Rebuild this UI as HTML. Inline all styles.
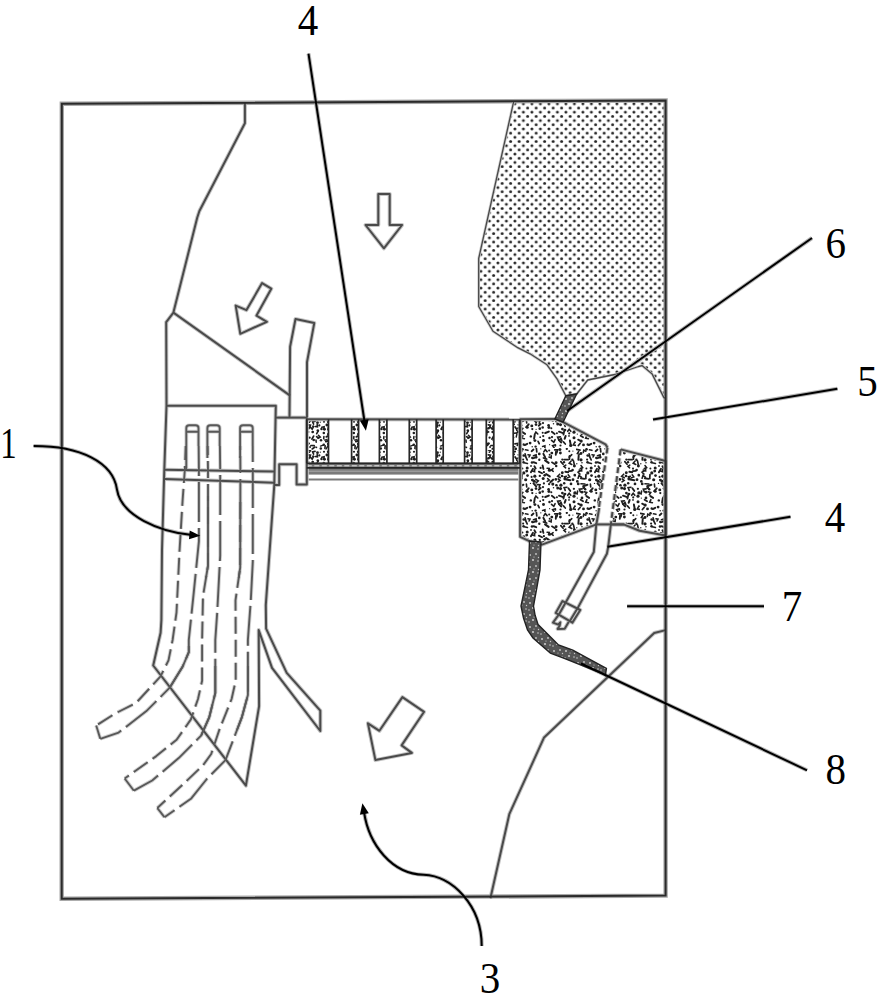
<!DOCTYPE html>
<html><head><meta charset="utf-8"><style>
html,body{margin:0;padding:0;background:#fff;}
body{width:884px;height:1000px;overflow:hidden;font-family:"Liberation Serif",serif;}
svg{position:absolute;left:0;top:0;display:block;}
</style></head><body>
<svg width="884" height="1000" viewBox="0 0 884 1000">
<defs>
<pattern id="dots" patternUnits="userSpaceOnUse" x="650.9" y="103.8" width="8.5" height="8.375">
<circle cx="0" cy="0" r="1.5" fill="#262626"/><circle cx="8.5" cy="0" r="1.5" fill="#262626"/>
<circle cx="0" cy="8.375" r="1.5" fill="#262626"/><circle cx="8.5" cy="8.375" r="1.5" fill="#262626"/>
<circle cx="4.25" cy="4.1875" r="1.5" fill="#262626"/>
</pattern>
<pattern id="spk" patternUnits="userSpaceOnUse" width="64" height="64">
<rect width="64" height="64" fill="#fff"/>
<g fill="#1e1e1e" stroke="#1e1e1e" stroke-linecap="round">
<line x1="0.4" y1="1.4" x2="4.1" y2="2.1" stroke-width="1.61"/>
<polyline points="2.7,3.5 1.4,5.6 3.8,6.3" fill="none" stroke-width="1.6"/>
<line x1="2.7" y1="7.5" x2="2.4" y2="11.7" stroke-width="1.97"/>
<circle cx="0.8" cy="15.7" r="0.69" stroke="none"/>
<polyline points="4.4,22.8 2.1,24.1 3.9,26.1" fill="none" stroke-width="1.6"/>
<polyline points="5.4,29.2 3.0,27.6 2.1,30.3" fill="none" stroke-width="1.6"/>
<circle cx="1.3" cy="33.4" r="1.41" stroke="none"/>
<circle cx="2.2" cy="35.9" r="1.38" stroke="none"/>
<polyline points="6.2,40.9 3.3,41.1 4.3,43.8" fill="none" stroke-width="1.6"/>
<polyline points="-1.5,44.7 1.1,45.9 1.6,43.0" fill="none" stroke-width="1.6"/>
<circle cx="1.3" cy="50.1" r="0.69" stroke="none"/>
<line x1="2.1" y1="55.6" x2="5.1" y2="57.1" stroke-width="1.75"/>
<line x1="4.1" y1="59.5" x2="2.4" y2="61.5" stroke-width="1.77"/>
<polyline points="9.9,3.2 7.8,2.1 7.3,4.4" fill="none" stroke-width="1.6"/>
<circle cx="5.0" cy="5.5" r="1.40" stroke="none"/>
<circle cx="5.0" cy="11.8" r="1.62" stroke="none"/>
<circle cx="6.0" cy="14.8" r="0.79" stroke="none"/>
<polyline points="4.3,20.6 6.6,19.6 5.0,17.6" fill="none" stroke-width="1.6"/>
<polyline points="3.2,22.1 5.6,22.9 5.7,20.4" fill="none" stroke-width="1.6"/>
<line x1="4.8" y1="30.2" x2="8.5" y2="30.9" stroke-width="1.91"/>
<line x1="5.0" y1="35.7" x2="8.9" y2="36.0" stroke-width="1.63"/>
<circle cx="7.8" cy="39.8" r="1.39" stroke="none"/>
<circle cx="6.0" cy="44.2" r="1.39" stroke="none"/>
<circle cx="6.0" cy="49.9" r="1.37" stroke="none"/>
<line x1="4.6" y1="51.7" x2="7.1" y2="53.3" stroke-width="1.82"/>
<circle cx="5.2" cy="57.1" r="1.54" stroke="none"/>
<circle cx="7.5" cy="60.9" r="1.42" stroke="none"/>
<circle cx="10.5" cy="1.3" r="1.34" stroke="none"/>
<circle cx="11.6" cy="7.4" r="1.18" stroke="none"/>
<circle cx="11.1" cy="11.6" r="1.08" stroke="none"/>
<circle cx="11.5" cy="14.2" r="1.27" stroke="none"/>
<circle cx="10.4" cy="20.5" r="1.00" stroke="none"/>
<circle cx="11.8" cy="24.9" r="1.62" stroke="none"/>
<line x1="10.0" y1="26.6" x2="9.7" y2="30.4" stroke-width="1.74"/>
<circle cx="9.9" cy="30.7" r="0.69" stroke="none"/>
<line x1="11.4" y1="36.8" x2="7.2" y2="38.2" stroke-width="2.05"/>
<circle cx="9.2" cy="41.3" r="1.19" stroke="none"/>
<polyline points="9.3,46.7 10.7,44.5 8.2,43.8" fill="none" stroke-width="1.6"/>
<line x1="10.4" y1="48.1" x2="13.1" y2="49.9" stroke-width="1.87"/>
<polyline points="10.9,51.7 9.7,54.2 12.4,54.7" fill="none" stroke-width="1.6"/>
<circle cx="11.7" cy="60.5" r="1.17" stroke="none"/>
<line x1="13.5" y1="1.8" x2="15.9" y2="2.3" stroke-width="1.66"/>
<polyline points="11.6,7.8 13.6,7.8 13.1,5.8" fill="none" stroke-width="1.6"/>
<line x1="13.6" y1="8.6" x2="15.2" y2="11.9" stroke-width="1.70"/>
<line x1="12.2" y1="14.7" x2="15.4" y2="15.5" stroke-width="1.69"/>
<circle cx="15.2" cy="20.0" r="1.52" stroke="none"/>
<circle cx="14.7" cy="23.1" r="1.46" stroke="none"/>
<circle cx="15.5" cy="27.6" r="1.35" stroke="none"/>
<circle cx="13.7" cy="31.8" r="1.57" stroke="none"/>
<line x1="14.4" y1="36.0" x2="14.7" y2="39.0" stroke-width="1.66"/>
<line x1="16.7" y1="40.3" x2="14.1" y2="43.1" stroke-width="1.88"/>
<circle cx="15.2" cy="43.3" r="1.50" stroke="none"/>
<line x1="15.2" y1="59.8" x2="12.8" y2="61.1" stroke-width="1.94"/>
<line x1="21.5" y1="1.5" x2="19.6" y2="3.2" stroke-width="1.86"/>
<polyline points="17.1,9.0 18.0,7.1 16.0,6.7" fill="none" stroke-width="1.6"/>
<circle cx="20.2" cy="9.9" r="1.16" stroke="none"/>
<circle cx="20.0" cy="14.6" r="1.26" stroke="none"/>
<circle cx="19.0" cy="18.0" r="0.89" stroke="none"/>
<line x1="21.0" y1="20.7" x2="18.9" y2="24.2" stroke-width="1.86"/>
<circle cx="19.6" cy="28.9" r="1.06" stroke="none"/>
<circle cx="20.4" cy="32.1" r="1.47" stroke="none"/>
<circle cx="18.5" cy="35.4" r="0.69" stroke="none"/>
<circle cx="19.8" cy="41.9" r="1.46" stroke="none"/>
<circle cx="20.3" cy="45.1" r="1.14" stroke="none"/>
<circle cx="18.8" cy="52.4" r="1.21" stroke="none"/>
<circle cx="18.1" cy="59.1" r="1.39" stroke="none"/>
<circle cx="20.2" cy="62.8" r="0.74" stroke="none"/>
<line x1="24.3" y1="-0.4" x2="24.8" y2="4.0" stroke-width="1.71"/>
<polyline points="24.3,9.8 24.1,6.9 21.4,7.8" fill="none" stroke-width="1.6"/>
<line x1="24.8" y1="9.1" x2="20.7" y2="10.4" stroke-width="1.73"/>
<line x1="21.6" y1="14.3" x2="24.2" y2="15.1" stroke-width="2.02"/>
<line x1="22.4" y1="18.3" x2="23.7" y2="20.5" stroke-width="1.82"/>
<polyline points="20.3,23.1 22.6,23.7 22.6,21.3" fill="none" stroke-width="1.6"/>
<circle cx="22.8" cy="28.2" r="1.58" stroke="none"/>
<circle cx="22.3" cy="33.3" r="1.50" stroke="none"/>
<line x1="21.5" y1="35.3" x2="24.2" y2="38.3" stroke-width="1.98"/>
<circle cx="24.0" cy="40.6" r="1.32" stroke="none"/>
<circle cx="24.1" cy="45.3" r="0.65" stroke="none"/>
<polyline points="25.8,50.0 23.9,48.1 22.6,50.4" fill="none" stroke-width="1.6"/>
<line x1="22.7" y1="51.0" x2="22.1" y2="54.7" stroke-width="1.92"/>
<circle cx="22.9" cy="56.6" r="1.47" stroke="none"/>
<circle cx="23.6" cy="62.6" r="1.17" stroke="none"/>
<circle cx="28.8" cy="0.8" r="0.67" stroke="none"/>
<circle cx="27.3" cy="5.9" r="1.35" stroke="none"/>
<circle cx="27.3" cy="11.7" r="1.18" stroke="none"/>
<circle cx="28.6" cy="19.9" r="1.12" stroke="none"/>
<line x1="26.8" y1="23.6" x2="30.1" y2="25.2" stroke-width="1.80"/>
<circle cx="27.8" cy="27.9" r="1.16" stroke="none"/>
<polyline points="24.1,34.9 26.3,32.9 23.8,31.3" fill="none" stroke-width="1.6"/>
<polyline points="27.2,39.2 28.0,36.7 25.3,36.6" fill="none" stroke-width="1.6"/>
<line x1="28.6" y1="40.0" x2="26.7" y2="41.7" stroke-width="1.93"/>
<circle cx="27.8" cy="44.7" r="1.34" stroke="none"/>
<circle cx="28.2" cy="53.2" r="0.89" stroke="none"/>
<line x1="26.1" y1="57.3" x2="27.2" y2="59.6" stroke-width="1.72"/>
<polyline points="35.1,3.6 33.3,1.6 31.8,3.9" fill="none" stroke-width="1.6"/>
<line x1="31.4" y1="5.9" x2="33.2" y2="9.4" stroke-width="2.00"/>
<line x1="31.4" y1="9.9" x2="34.7" y2="11.1" stroke-width="1.62"/>
<line x1="30.6" y1="17.5" x2="31.4" y2="20.9" stroke-width="1.92"/>
<circle cx="31.9" cy="24.2" r="1.12" stroke="none"/>
<circle cx="32.7" cy="27.3" r="1.34" stroke="none"/>
<circle cx="31.2" cy="30.5" r="1.51" stroke="none"/>
<circle cx="31.9" cy="35.4" r="1.11" stroke="none"/>
<circle cx="31.0" cy="39.1" r="1.11" stroke="none"/>
<circle cx="30.7" cy="43.4" r="1.27" stroke="none"/>
<circle cx="30.7" cy="48.8" r="1.02" stroke="none"/>
<circle cx="31.2" cy="52.1" r="1.11" stroke="none"/>
<circle cx="31.5" cy="56.5" r="1.47" stroke="none"/>
<polyline points="32.9,64.1 32.9,61.8 30.6,62.4" fill="none" stroke-width="1.6"/>
<circle cx="37.2" cy="2.5" r="1.06" stroke="none"/>
<circle cx="37.7" cy="6.7" r="1.02" stroke="none"/>
<line x1="33.1" y1="12.3" x2="36.6" y2="14.9" stroke-width="2.09"/>
<polyline points="36.5,22.4 37.2,20.4 35.1,20.3" fill="none" stroke-width="1.6"/>
<circle cx="37.6" cy="22.2" r="1.55" stroke="none"/>
<line x1="34.1" y1="26.1" x2="37.8" y2="28.4" stroke-width="1.97"/>
<polyline points="35.2,33.4 37.3,32.2 35.6,30.5" fill="none" stroke-width="1.6"/>
<circle cx="37.1" cy="36.2" r="1.11" stroke="none"/>
<circle cx="36.6" cy="41.2" r="1.32" stroke="none"/>
<circle cx="36.9" cy="43.4" r="1.49" stroke="none"/>
<line x1="36.8" y1="47.6" x2="33.3" y2="49.0" stroke-width="2.04"/>
<circle cx="37.5" cy="54.0" r="1.24" stroke="none"/>
<circle cx="37.6" cy="60.7" r="0.63" stroke="none"/>
<circle cx="39.8" cy="5.1" r="1.42" stroke="none"/>
<polyline points="37.0,9.0 39.1,9.9 39.3,7.7" fill="none" stroke-width="1.6"/>
<line x1="39.9" y1="14.3" x2="42.9" y2="16.2" stroke-width="1.69"/>
<polyline points="41.1,20.7 39.4,22.0 41.2,23.3" fill="none" stroke-width="1.6"/>
<line x1="41.1" y1="31.7" x2="38.3" y2="34.3" stroke-width="2.04"/>
<circle cx="40.8" cy="36.1" r="1.54" stroke="none"/>
<circle cx="41.5" cy="39.7" r="0.74" stroke="none"/>
<circle cx="39.3" cy="44.3" r="1.05" stroke="none"/>
<line x1="39.8" y1="47.7" x2="42.7" y2="50.0" stroke-width="1.78"/>
<circle cx="40.0" cy="53.1" r="1.14" stroke="none"/>
<polyline points="39.5,56.3 41.8,58.3 43.1,55.6" fill="none" stroke-width="1.6"/>
<polyline points="43.4,60.7 40.6,61.6 42.2,64.0" fill="none" stroke-width="1.6"/>
<polyline points="44.9,4.7 45.6,1.9 42.7,1.9" fill="none" stroke-width="1.6"/>
<line x1="44.0" y1="3.7" x2="43.8" y2="6.7" stroke-width="1.92"/>
<circle cx="44.1" cy="14.7" r="1.48" stroke="none"/>
<circle cx="44.2" cy="18.0" r="1.27" stroke="none"/>
<polyline points="47.7,26.2 45.6,28.3 48.2,29.8" fill="none" stroke-width="1.6"/>
<circle cx="43.8" cy="31.4" r="1.34" stroke="none"/>
<circle cx="44.4" cy="37.3" r="1.30" stroke="none"/>
<circle cx="45.7" cy="39.9" r="1.52" stroke="none"/>
<circle cx="44.9" cy="49.2" r="1.03" stroke="none"/>
<polyline points="48.4,52.9 45.6,53.2 46.7,55.8" fill="none" stroke-width="1.6"/>
<circle cx="43.3" cy="61.7" r="1.03" stroke="none"/>
<circle cx="47.9" cy="1.6" r="1.52" stroke="none"/>
<circle cx="48.4" cy="5.0" r="1.41" stroke="none"/>
<circle cx="50.3" cy="11.6" r="1.09" stroke="none"/>
<line x1="48.8" y1="13.6" x2="51.1" y2="16.3" stroke-width="1.68"/>
<circle cx="50.3" cy="24.7" r="1.43" stroke="none"/>
<circle cx="50.0" cy="28.0" r="1.34" stroke="none"/>
<polyline points="46.0,33.9 48.1,32.5 46.2,30.9" fill="none" stroke-width="1.6"/>
<circle cx="48.9" cy="37.2" r="1.62" stroke="none"/>
<circle cx="48.5" cy="40.6" r="1.55" stroke="none"/>
<circle cx="50.4" cy="45.1" r="1.37" stroke="none"/>
<line x1="47.0" y1="47.7" x2="51.1" y2="49.1" stroke-width="1.93"/>
<polyline points="50.0,57.0 49.1,54.5 47.0,56.0" fill="none" stroke-width="1.6"/>
<line x1="47.1" y1="56.1" x2="49.1" y2="58.4" stroke-width="2.07"/>
<circle cx="48.5" cy="61.5" r="1.09" stroke="none"/>
<circle cx="54.8" cy="0.9" r="1.13" stroke="none"/>
<line x1="52.0" y1="11.6" x2="56.1" y2="11.7" stroke-width="1.74"/>
<circle cx="52.0" cy="14.2" r="1.17" stroke="none"/>
<polyline points="53.8,17.2 52.0,18.4 53.6,19.8" fill="none" stroke-width="1.6"/>
<line x1="53.4" y1="23.8" x2="56.2" y2="24.2" stroke-width="1.98"/>
<polyline points="54.4,28.2 52.4,28.7 53.4,30.5" fill="none" stroke-width="1.6"/>
<circle cx="53.0" cy="30.8" r="1.64" stroke="none"/>
<circle cx="52.2" cy="35.2" r="1.23" stroke="none"/>
<polyline points="55.0,39.2 52.1,39.6 53.2,42.4" fill="none" stroke-width="1.6"/>
<circle cx="52.9" cy="46.1" r="1.46" stroke="none"/>
<line x1="52.3" y1="46.6" x2="51.5" y2="50.6" stroke-width="1.83"/>
<line x1="53.6" y1="52.0" x2="52.7" y2="54.8" stroke-width="2.07"/>
<line x1="51.4" y1="57.9" x2="53.3" y2="60.0" stroke-width="1.70"/>
<circle cx="57.3" cy="3.2" r="1.01" stroke="none"/>
<line x1="59.8" y1="6.7" x2="57.2" y2="9.1" stroke-width="1.65"/>
<line x1="57.5" y1="8.0" x2="57.4" y2="11.2" stroke-width="1.79"/>
<polyline points="59.1,13.0 57.2,15.2 59.8,16.5" fill="none" stroke-width="1.6"/>
<circle cx="57.0" cy="20.6" r="1.08" stroke="none"/>
<line x1="59.8" y1="22.8" x2="56.8" y2="23.2" stroke-width="1.83"/>
<polyline points="55.3,29.8 57.7,28.9 56.2,26.8" fill="none" stroke-width="1.6"/>
<line x1="54.3" y1="31.4" x2="58.3" y2="32.2" stroke-width="2.03"/>
<circle cx="59.0" cy="35.9" r="1.36" stroke="none"/>
<line x1="56.4" y1="40.3" x2="58.3" y2="42.9" stroke-width="1.85"/>
<polyline points="58.8,47.3 57.2,45.3 55.7,47.3" fill="none" stroke-width="1.6"/>
<circle cx="57.2" cy="49.4" r="1.05" stroke="none"/>
<circle cx="57.0" cy="51.9" r="0.88" stroke="none"/>
<line x1="57.9" y1="56.5" x2="58.7" y2="60.7" stroke-width="1.94"/>
<circle cx="58.7" cy="61.5" r="1.58" stroke="none"/>
<circle cx="60.9" cy="3.1" r="0.63" stroke="none"/>
<circle cx="60.4" cy="11.7" r="1.18" stroke="none"/>
<line x1="61.5" y1="12.9" x2="62.3" y2="16.6" stroke-width="1.65"/>
<circle cx="62.4" cy="18.0" r="1.49" stroke="none"/>
<circle cx="60.6" cy="22.0" r="1.27" stroke="none"/>
<circle cx="62.8" cy="27.2" r="1.38" stroke="none"/>
<circle cx="61.0" cy="31.7" r="1.42" stroke="none"/>
<circle cx="61.9" cy="40.8" r="1.15" stroke="none"/>
<circle cx="62.9" cy="44.9" r="1.64" stroke="none"/>
<circle cx="62.0" cy="48.2" r="1.58" stroke="none"/>
<circle cx="62.0" cy="53.7" r="1.50" stroke="none"/>
<circle cx="62.9" cy="58.3" r="1.04" stroke="none"/>
<polyline points="62.3,59.0 61.3,61.0 63.5,61.4" fill="none" stroke-width="1.6"/>
</g></pattern>
<pattern id="spk2" patternUnits="userSpaceOnUse" width="30" height="30">
<rect width="30" height="30" fill="#fff"/>
<g fill="#1e1e1e" stroke="#1e1e1e" stroke-linecap="round">
<polyline points="4.7,1.5 2.5,2.6 4.2,4.4" fill="none" stroke-width="1.6"/>
<polyline points="1.2,10.1 3.0,9.8 2.2,8.1" fill="none" stroke-width="1.6"/>
<circle cx="2.0" cy="13.3" r="1.03" stroke="none"/>
<circle cx="3.0" cy="17.6" r="1.37" stroke="none"/>
<circle cx="2.2" cy="19.6" r="1.41" stroke="none"/>
<polyline points="3.1,25.1 1.1,25.6 2.1,27.4" fill="none" stroke-width="1.6"/>
<polyline points="4.7,26.8 2.3,27.4 3.5,29.5" fill="none" stroke-width="1.6"/>
<circle cx="5.1" cy="1.5" r="0.99" stroke="none"/>
<line x1="5.1" y1="6.9" x2="6.7" y2="9.3" stroke-width="1.81"/>
<line x1="6.3" y1="13.0" x2="4.0" y2="13.2" stroke-width="1.45"/>
<line x1="6.9" y1="14.2" x2="6.2" y2="17.0" stroke-width="1.44"/>
<line x1="8.7" y1="23.2" x2="4.9" y2="23.9" stroke-width="1.59"/>
<circle cx="5.7" cy="28.8" r="1.34" stroke="none"/>
<polyline points="9.3,2.2 10.3,0.7 8.5,0.1" fill="none" stroke-width="1.6"/>
<polyline points="9.6,7.3 10.5,5.2 8.2,4.9" fill="none" stroke-width="1.6"/>
<circle cx="8.5" cy="8.3" r="1.30" stroke="none"/>
<polyline points="6.6,13.2 8.5,11.9 6.8,10.5" fill="none" stroke-width="1.6"/>
<circle cx="9.6" cy="17.7" r="1.15" stroke="none"/>
<line x1="9.0" y1="23.4" x2="7.3" y2="25.3" stroke-width="1.87"/>
<circle cx="10.1" cy="27.1" r="0.99" stroke="none"/>
<polyline points="15.1,1.4 12.6,1.8 13.6,4.1" fill="none" stroke-width="1.6"/>
<circle cx="13.1" cy="6.2" r="1.07" stroke="none"/>
<polyline points="10.3,7.1 12.2,9.1 13.5,6.7" fill="none" stroke-width="1.6"/>
<circle cx="12.7" cy="12.0" r="1.36" stroke="none"/>
<line x1="13.6" y1="16.1" x2="11.9" y2="19.1" stroke-width="1.78"/>
<circle cx="13.7" cy="20.0" r="1.35" stroke="none"/>
<line x1="10.9" y1="25.5" x2="14.2" y2="25.6" stroke-width="1.69"/>
<line x1="14.9" y1="27.0" x2="12.2" y2="29.0" stroke-width="1.60"/>
<circle cx="17.5" cy="2.7" r="1.39" stroke="none"/>
<polyline points="15.1,6.5 17.4,6.9 17.2,4.6" fill="none" stroke-width="1.6"/>
<circle cx="17.8" cy="10.5" r="1.30" stroke="none"/>
<line x1="18.3" y1="10.8" x2="16.7" y2="13.7" stroke-width="1.63"/>
<line x1="16.6" y1="16.7" x2="18.6" y2="17.8" stroke-width="1.64"/>
<line x1="16.0" y1="20.0" x2="16.2" y2="22.3" stroke-width="1.54"/>
<circle cx="16.4" cy="27.3" r="0.92" stroke="none"/>
<circle cx="20.3" cy="2.2" r="0.60" stroke="none"/>
<circle cx="19.3" cy="5.4" r="1.14" stroke="none"/>
<circle cx="21.5" cy="9.0" r="1.26" stroke="none"/>
<polyline points="18.0,18.3 20.2,17.1 18.4,15.3" fill="none" stroke-width="1.6"/>
<circle cx="21.0" cy="20.3" r="1.25" stroke="none"/>
<line x1="23.2" y1="25.1" x2="20.5" y2="26.1" stroke-width="1.44"/>
<circle cx="20.8" cy="28.4" r="1.27" stroke="none"/>
<circle cx="24.0" cy="1.7" r="1.07" stroke="none"/>
<polyline points="23.9,9.2 24.1,6.8 21.8,7.3" fill="none" stroke-width="1.6"/>
<circle cx="24.4" cy="9.2" r="1.48" stroke="none"/>
<circle cx="23.8" cy="13.1" r="1.26" stroke="none"/>
<line x1="23.9" y1="16.5" x2="23.7" y2="18.7" stroke-width="1.56"/>
<circle cx="25.1" cy="20.0" r="0.99" stroke="none"/>
<circle cx="23.8" cy="24.7" r="1.28" stroke="none"/>
<line x1="25.2" y1="25.7" x2="24.9" y2="28.5" stroke-width="1.59"/>
<circle cx="28.2" cy="1.8" r="1.34" stroke="none"/>
<circle cx="26.9" cy="5.0" r="1.44" stroke="none"/>
<line x1="28.6" y1="6.6" x2="27.9" y2="9.6" stroke-width="1.76"/>
<circle cx="28.1" cy="14.2" r="1.13" stroke="none"/>
<line x1="28.4" y1="15.8" x2="26.3" y2="16.9" stroke-width="1.75"/>
<polyline points="25.7,21.6 27.6,21.4 26.8,19.6" fill="none" stroke-width="1.6"/>
<circle cx="28.1" cy="23.9" r="1.24" stroke="none"/>
<line x1="27.9" y1="25.8" x2="26.1" y2="29.0" stroke-width="1.45"/>
</g></pattern>
<pattern id="dark" patternUnits="userSpaceOnUse" width="12" height="12">
<rect width="12" height="12" fill="#555"/>
<g fill="#c8c8c8">
<circle cx="2" cy="3" r="1"/><circle cx="8" cy="2" r="0.9"/><circle cx="5" cy="8" r="1.1"/><circle cx="10" cy="9" r="0.8"/><circle cx="1" cy="10" r="0.8"/><circle cx="6" cy="5" r="0.6"/><circle cx="10.5" cy="5.5" r="0.7"/>
</g></pattern>
<g id="ln" fill="none" stroke-linejoin="round">
<path d="M596.5 524.4 L542 544.6 L529.4 541.2 L520.1 536.8 L520.3 419.3 L554.9 418.9 L563.1 422.1 L605.5 444.4 L607.5 447.5"/>
<path d="M620.6 449.4 L665.6 461 L665.6 535.6 L639.6 530.8 L624.2 524.6 L611.3 524.4"/>
<path d="M607.5 447.5 L598.75 508.75" stroke-dasharray="6 3"/>
<path d="M620.6 449.4 L611.25 521.25" stroke-dasharray="6 3"/>
<path d="M244.9 102.8 L244.9 123.2 L199.4 211 L197.2 217.7 L173.4 312.6 L166.2 322.2 L166.5 405.5 L164.3 470 L162 550 L161.4 620 L160.6 632.7 L153.2 665.5 L245.9 785.6 L259.1 706.2 L258.7 630.1 L272 667.9 L320.3 731 L320.3 710.6 L286.7 672.8 L266.1 628.7 L265.8 605 L274.3 485 L275.8 405.7 L166.5 405.5"/>
<path d="M173.4 312.6 L290.1 395.6"/>
<path d="M289.5 417.5 L290.1 346.8 L295.5 319 L314.3 322.9 L307 362.3 L307 417.5"/>
<path d="M275.8 417.6 L307 417.6"/>
<path d="M274 485 L279.2 485 L279.2 464.3 L296.6 464.3 L296.6 484.5 L306.8 484.5 L306.8 417.6"/>
<path d="M164.3 469.7 L274 471.5"/>
<path d="M164.3 479.0 L274 482.7"/>
<path d="M306.8 419.3 L520.3 419.6"/>
<path d="M665.6 630.1 L654.2 633 L544.1 737.4 L509.3 814.2 L490.4 898.3"/>

<path d="M599.2 508 L596.25 525 L593.8 551.9 L565.4 602.9"/>
<path d="M611.25 521.25 L608.1 547.5 L606.9 553.8 L577.4 608.6"/>
<path d="M595 524.4 L624.2 524.4"/>
<path d="M562.5 601.1 L580.3 610 L572.4 622.6 L555.7 612.9 Z"/>
<path d="M565.4 602.9 L558.9 614.5 M577.4 608.6 L569.7 621.2"/>
<path d="M558.9 614.5 L553 622.6 L558.2 624.6 L560.3 622.3 L559.6 626 L557.6 628.9 L564.7 628.7 L568.8 621.7"/>

<path d="M378.3 193.9 L389.7 193.9 L389.7 225 L402.1 225 L383.9 248.3 L365.5 225 L378.3 225 Z"/>
<path d="M262.1 283.1 L271.3 288.7 L256.5 315.6 L266.9 321.8 L240.3 333.8 L235.7 305.6 L246.5 310.1 Z"/>
<path d="M402.4 697.1 L424.1 711.8 L401.6 745.4 L411.9 752.9 L375.4 760.1 L367.9 723.3 L379.4 730.8 Z"/>
</g>
<g id="pp" fill="none" stroke-linejoin="round">
<path d="M185.66 446 L184.8 470 L182.6 500.5 L179.5 551.4 L176.5 612.5 L172.6 640 L168.5 660.4 L160.3 676.7 L135.9 703.1 L115.5 713.3 L96.2 725.5" stroke-dasharray="17 6" stroke-dashoffset="3"/>
<path d="M198.67 446 L198.9 470 L198.9 541.3 L193.8 592.2 L188.8 640 L188.8 652.2 L182.7 666.5 L169.5 687.9 L146.1 711.3 L118.6 732.6 L100.3 738.8" stroke-dasharray="40 6" stroke-dashoffset="10"/>
<path d="M188.8 646 L188.8 652.2 L182.7 666.5 L169.5 687.9 L169.4 688"/>
<path d="M96.2 725.5 L100.3 738.8"/>
<path d="M186.3 470 V428 Q186.3 425.3 189.3 425.3 H195.5 Q198.5 425.3 198.5 428 V446 M186.3 431.7 H198.5"/>
<path d="M207.66 446 L208 470 L208 565.7 L203 596.2 L202.1 640 L202.1 680.7 L198 699 L190.9 719.4 L176.6 739.8 L156.3 756.1 L124.7 778.5" stroke-dasharray="17 6" stroke-dashoffset="8"/>
<path d="M219.91 446 L220.2 470 L220.2 555.5 L217.2 612.5 L215.3 640 L215.3 692.9 L209.2 717.4 L201.1 735.7 L178.7 758.1 L152.2 780.5 L133.9 790.7" stroke-dasharray="40 6" stroke-dashoffset="17"/>
<path d="M208.0 496 L208 565.7 L205.98 578"/>
<path d="M215.3 666 L215.3 692.9 L209.2 717.4 L201.41 735"/>
<path d="M124.7 778.5 L133.9 790.7"/>
<path d="M207.4 458 V428 Q207.4 425.3 210.4 425.3 H216.7 Q219.7 425.3 219.7 428 V446 M207.4 431.7 H219.7"/>
<path d="M240.23 446 L240.4 470 L240.2 567.7 L235.5 600.3 L235.7 640 L235.7 680.7 L231.6 699 L219.4 729.6 L211.2 754 L203.1 765.2 L182.7 784.6 L157.3 808" stroke-dasharray="17 6" stroke-dashoffset="13"/>
<path d="M252.74 446 L252.8 470 L252.8 561.6 L250.8 600.3 L247.9 640 L247.9 695 L241.8 717.4 L225.5 760.1 L207.2 778.5 L190.9 798.8 L164.4 817.2" stroke-dasharray="40 6" stroke-dashoffset="24"/>
<path d="M240.35 496 L240.2 567.7 L238.72 578"/>
<path d="M247.9 666 L247.9 695 L241.8 717.4 L236.99 730"/>
<path d="M157.3 808 L164.4 817.2"/>
<path d="M240.1 458 V428 Q240.1 425.3 243.1 425.3 H249.7 Q252.7 425.3 252.7 428 V446 M240.1 431.7 H252.7"/>
</g>
<g id="ld" fill="none">

<path d="M308.5 53.6 L364.6 422"/>
<path d="M567 411 L812 238"/>
<path d="M653 419.6 L837.4 388.8"/>
<path d="M607.5 546.7 L790.5 516.8"/>
<path d="M627.1 606.2 L764 606.2"/>
<path d="M581 663.5 L807 770.3"/>
<path d="M33.6 446.1 C80 446 113 462 117 489.6 C121 516 160 532 192 535"/>
<path d="M481.7 946.1 C481.7 905 452 876 423.6 874.8 C392 874 369 845 364 812"/>

</g>
</defs>
<rect width="884" height="1000" fill="#fff"/>
<polygon points="513.6,101.9 665.6,100.4 665.6,398 664,397.9 652.2,374.1 642,365.6 638.6,366.5 614.8,374.5 587.7,380 576.7,394 565.8,395.8 557.2,379.2 547,364.8 530,353.8 517.7,347.7 493,331.3 478.7,306.5 478.7,258.5" fill="url(#dots)"/>
<polygon points="520.3,419.3 554.9,418.9 563.1,422.1 605.5,444.4 607.5,447.5 598.75,508.75 596.5,524.4 542,544.6 529.4,541.2 520.1,536.8" fill="url(#spk)"/>
<polygon points="620.6,449.4 665.6,461 665.6,535.6 639.6,530.8 624.2,524.6 611.3,524.4 611.25,521.25" fill="url(#spk)"/>
<rect x="306.8" y="419.3" width="21.7" height="44.0" fill="url(#spk2)"/>
<rect x="351.6" y="419.3" width="7.0" height="44.0" fill="url(#spk2)"/>
<rect x="379.4" y="419.3" width="7.5" height="44.0" fill="url(#spk2)"/>
<rect x="409.3" y="419.3" width="7.399999999999977" height="44.0" fill="url(#spk2)"/>
<rect x="436.1" y="419.3" width="7.099999999999966" height="44.0" fill="url(#spk2)"/>
<rect x="464.6" y="419.3" width="7.5" height="44.0" fill="url(#spk2)"/>
<rect x="486.3" y="419.3" width="7.5" height="44.0" fill="url(#spk2)"/>
<rect x="513.2" y="419.3" width="6.399999999999977" height="44.0" fill="url(#spk2)"/>
<rect x="306.8" y="462.6" width="213.6" height="12" fill="#7a7a7a"/>
<line x1="306.8" y1="465.8" x2="520.3" y2="465.8" stroke="#eee" stroke-width="0.9" stroke-dasharray="5 2.5"/>
<line x1="306.8" y1="471.2" x2="520.3" y2="471.2" stroke="#aaa" stroke-width="1"/>
<line x1="306.8" y1="479.6" x2="520.3" y2="479.6" stroke="#7a7a7a" stroke-width="2"/>
<use href="#ln" stroke="#c4c4c4" stroke-width="4.0"/>
<polygon points="61.8,103.8 665.6,100.4 665.6,895.6 61.7,898.8" fill="none" stroke="#a8a8a8" stroke-width="4.4"/>
<use href="#ld" stroke="#b4b4b4" stroke-width="4.0"/>
<path d="M665.6 398 L664 397.9 L652.2 374.1 L642 365.6 L638.6 366.5 L614.8 374.5 L587.7 380 L576.7 394 L565.8 395.8 L557.2 379.2 L547 364.8 L530 353.8 L517.7 347.7 L493 331.3 L478.7 306.5 L478.7 258.5 L513.6 101.9" fill="none" stroke="#cfcfcf" stroke-width="2.8" stroke-linejoin="round"/>
<path d="M665.6 398 L664 397.9 L652.2 374.1 L642 365.6 L638.6 366.5 L614.8 374.5 L587.7 380 L576.7 394 L565.8 395.8 L557.2 379.2 L547 364.8 L530 353.8 L517.7 347.7 L493 331.3 L478.7 306.5 L478.7 258.5 L513.6 101.9" fill="none" stroke="#484848" stroke-width="1.3" stroke-linejoin="round"/>
<use href="#pp" stroke="#d2d2d2" stroke-width="3.8"/>
<use href="#ln" stroke="#4a4a4a" stroke-width="2.0"/>
<use href="#pp" stroke="#585858" stroke-width="1.9"/>
<polygon points="61.8,103.8 665.6,100.4 665.6,895.6 61.7,898.8" fill="none" stroke="#2a2a2a" stroke-width="2.0"/>
<polygon points="565.8,395.8 576.7,394 563.1,422.1 554.9,418.9" fill="url(#dark)" stroke="#222" stroke-width="1.4"/>
<polygon points="541,542 540,570 537,587 533.5,606 535.1,615.3 538.1,624.6 558.5,645 572.8,650.1 606.4,668.4 605.4,675.5 602.3,673.5 563.6,658.2 550.4,653.1 533,638 527.5,630 523.5,618 521,606 525,587 528.5,570 529.5,541" fill="url(#dark)" stroke="#222" stroke-width="1.4"/>
<g fill="none" stroke="#262626" stroke-width="1.7"><path d="M306.8 419.3V463.3M328.5 419.3V463.3"/>
<path d="M351.6 419.3V463.3M358.6 419.3V463.3"/>
<path d="M379.4 419.3V463.3M386.9 419.3V463.3"/>
<path d="M409.3 419.3V463.3M416.7 419.3V463.3"/>
<path d="M436.1 419.3V463.3M443.2 419.3V463.3"/>
<path d="M464.6 419.3V463.3M472.1 419.3V463.3"/>
<path d="M486.3 419.3V463.3M493.8 419.3V463.3"/>
<path d="M513.2 419.3V463.3M519.6 419.3V463.3"/>
<path d="M306.8 463.4 H520.3"/>
<path d="M306.8 467.9 H520.3"/></g>
<use href="#ld" stroke="#000" stroke-width="2.0"/>
<polygon points="365.9,430.8 359.8,420.6 368.7,419.2" fill="#000"/><polygon points="200.3,535.7 189.0,539.3 189.7,530.4" fill="#000"/><polygon points="362.4,803.2 368.8,813.2 359.9,814.8" fill="#000"/>
<g font-family="&quot;Liberation Serif&quot;, serif" font-size="41" fill="#000"><text text-anchor="middle" transform="translate(308.10,35.15) scale(1.0,1.1)">4</text><text text-anchor="middle" transform="translate(835.80,257.55) scale(1.0,1.1)">6</text><text text-anchor="middle" transform="translate(867.60,395.90) scale(1.0,1.1)">5</text><text text-anchor="middle" transform="translate(8.50,458.30) scale(0.8,1.1)">1</text><text text-anchor="middle" transform="translate(835.00,531.55) scale(1.0,1.1)">4</text><text text-anchor="middle" transform="translate(792.10,620.60) scale(1.0,1.1)">7</text><text text-anchor="middle" transform="translate(835.70,784.20) scale(1.0,1.1)">8</text><text text-anchor="middle" transform="translate(490.00,992.65) scale(1.0,1.1)">3</text></g>
</svg>
</body></html>
